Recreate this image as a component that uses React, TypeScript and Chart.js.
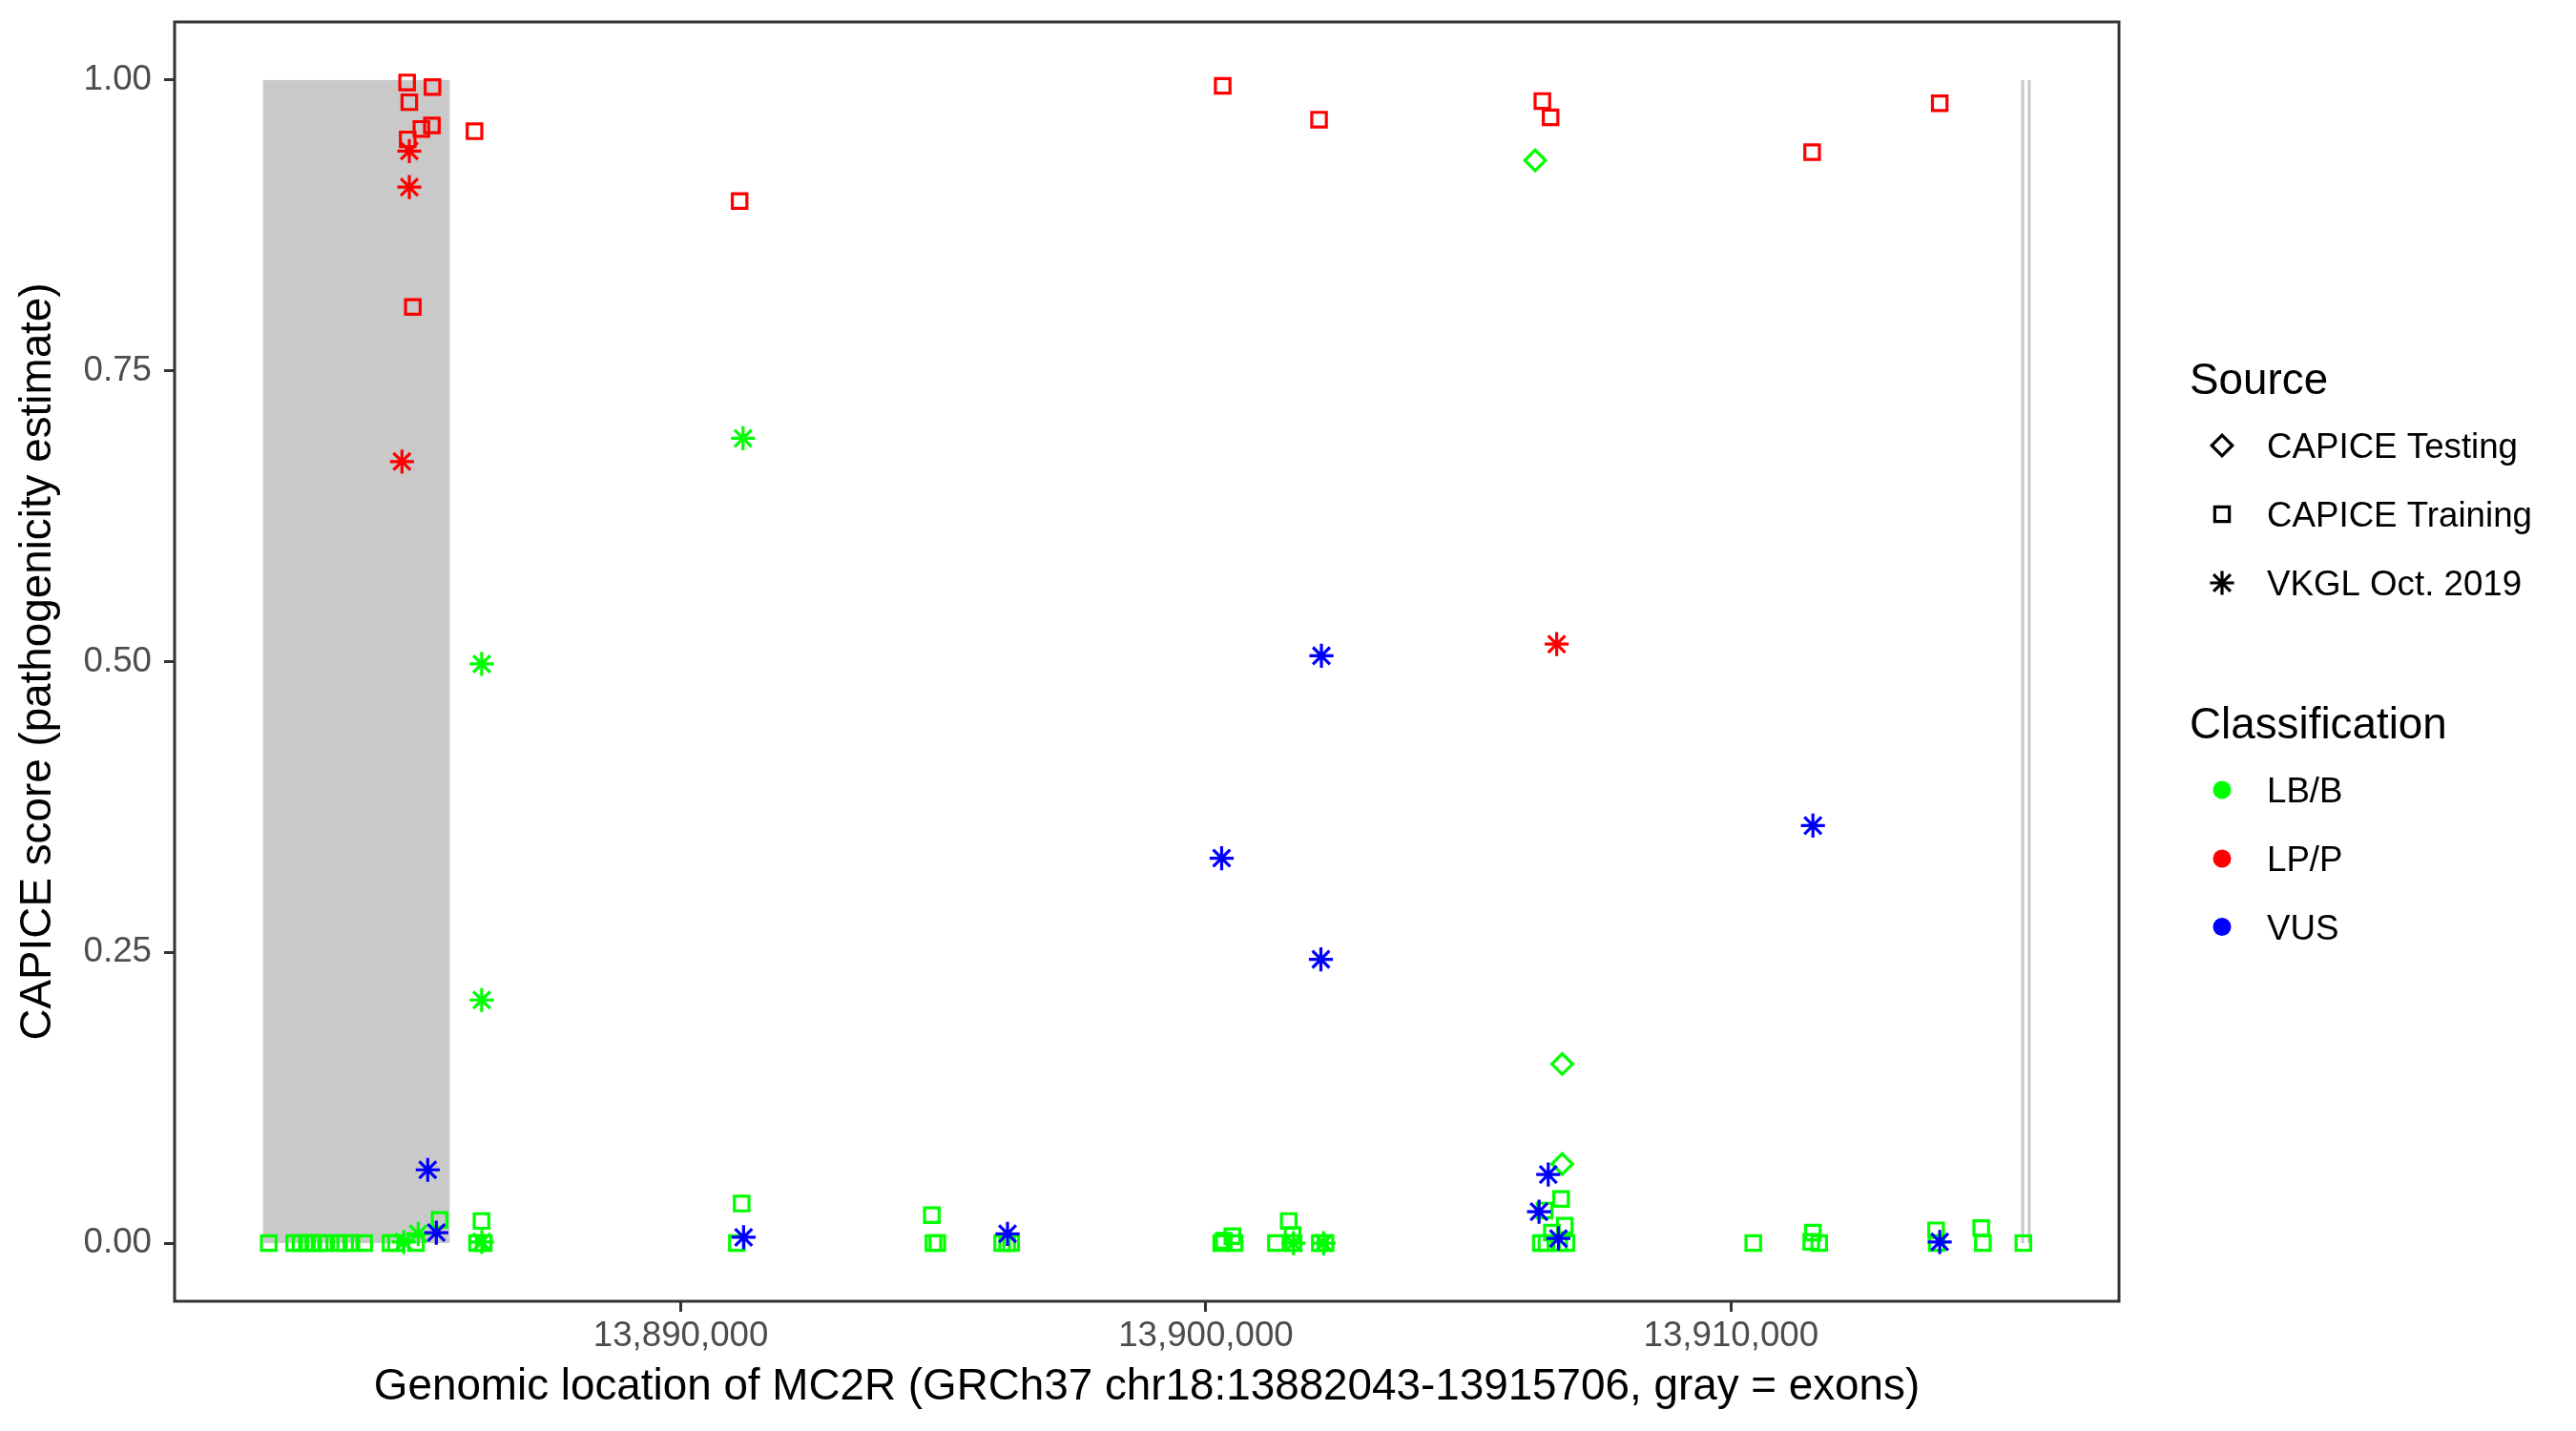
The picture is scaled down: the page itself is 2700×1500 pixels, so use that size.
import React, { useEffect, useRef } from 'react';
import { Chart, registerables } from 'chart.js';

Chart.register(...registerables);

// ---------- data ----------
const geneStart = 13882043;
const geneEnd = 13915706;

const exonStarts = [13882043, 13915525, 13915650];
const exonEnds = [13885600, 13915585, 13915706];

const xTickValues = [13890000, 13900000, 13910000];
const yTickValues = [0, 0.25, 0.5, 0.75, 1];

const sourceLabels = ['CAPICE Testing', 'CAPICE Training', 'VKGL Oct. 2019'];
const classLabels = ['LB/B', 'LP/P', 'VUS'];
const classColors = ['#00FF00', '#FF0000', '#0000FF'];

// CAPICE Training, LB/B
const trainLBB_x = [
  13882153, 13882637, 13882758, 13882880, 13883000, 13883122, 13883244, 13883485, 13883607,
  13883727, 13883970, 13884472, 13884575, 13884957, 13885406, 13886120, 13886247, 13886205,
  13891068, 13891159, 13894781, 13894811, 13894884, 13896120, 13896215, 13896290,
  13900292, 13900340, 13900505, 13900546, 13901334, 13901577, 13901650, 13901668,
  13902169, 13902278,
  13906379, 13906485, 13906729, 13906867, 13906450, 13906763, 13906834, 13906589,
  13910425, 13911559, 13911528, 13911680, 13913906, 13913918, 13914766, 13914797, 13915568,
];
const trainLBB_y = [
  0, 0, 0, 0, 0, 0, 0, 0, 0,
  0, 0, 0, 0, 0, 0.02, 0, 0, 0.019,
  0, 0.034, 0.024, 0, 0, 0, 0, 0,
  0, 0.002, 0.006, 0, 0, 0.019, 0.007, 0,
  0, 0,
  0, 0, 0, 0, 0.028, 0.038, 0.015, 0.009,
  0, 0.009, 0.001, 0, 0.011, 0, 0.013, 0, 0,
];

// CAPICE Training, LP/P
const trainLPP_x = [
  13884788, 13885271, 13884830, 13885260, 13885060, 13884799, 13884897, 13886071,
  13891120, 13900320, 13902155, 13906408, 13906564, 13911545, 13913975,
];
const trainLPP_y = [
  0.998, 0.994, 0.981, 0.961, 0.958, 0.949, 0.805, 0.956,
  0.896, 0.995, 0.966, 0.982, 0.968, 0.938, 0.98,
];

// CAPICE Testing, LB/B
const testLBB_x = [13906270, 13906785, 13906785];
const testLBB_y = [0.931, 0.154, 0.068];

// VKGL, LB/B
const vkglLBB_x = [13891185, 13886209, 13886209, 13884726, 13884999, 13886211, 13901667, 13902242];
const vkglLBB_y = [0.692, 0.498, 0.209, 0.001, 0.008, 0.001, 0, 0];

// VKGL, LP/P
const vkglLPP_x = [13884830, 13884830, 13884690, 13906680];
const vkglLPP_y = [0.939, 0.908, 0.672, 0.515];

// VKGL, VUS
const vkglVUS_x = [
  13885181, 13885344, 13891196, 13896222, 13900300, 13902200, 13902190,
  13906520, 13906344, 13906714, 13911560, 13913975,
];
const vkglVUS_y = [
  0.063, 0.009, 0.005, 0.008, 0.331, 0.505, 0.244,
  0.059, 0.027, 0.004, 0.359, 0.001,
];

const xTitle = 'Genomic location of MC2R (GRCh37 chr18:13882043-13915706, gray = exons)';
const yTitle = 'CAPICE score (pathogenicity estimate)';

// ---------- helpers ----------
const FONT = "'Liberation Sans', Arial, Helvetica, sans-serif";
const toPts = (xs: number[], ys: number[]) => xs.map((x, i) => ({ x, y: ys[i] }));
const fmtComma = (v: number) => String(Math.round(v)).replace(/\B(?=(\d{3})+(?!\d))/g, ',');

const R_RECT = 10.8;
const R_DIAMOND = 10.8;
const R_STAR = 12.6;
const LW = 3.2;

function drawMarker(ctx: CanvasRenderingContext2D, style: string, cx: number, cy: number, color: string) {
  ctx.save();
  ctx.strokeStyle = color;
  ctx.fillStyle = color;
  ctx.lineWidth = LW;
  ctx.beginPath();
  if (style === 'rectRot') {
    const r = R_DIAMOND;
    ctx.moveTo(cx, cy - r);
    ctx.lineTo(cx + r, cy);
    ctx.lineTo(cx, cy + r);
    ctx.lineTo(cx - r, cy);
    ctx.closePath();
    ctx.stroke();
  } else if (style === 'rect') {
    const s = R_RECT * Math.SQRT1_2;
    ctx.rect(cx - s, cy - s, 2 * s, 2 * s);
    ctx.stroke();
  } else if (style === 'star') {
    const r = R_STAR;
    ctx.moveTo(cx, cy - r);
    ctx.lineTo(cx, cy + r);
    ctx.moveTo(cx - r, cy);
    ctx.lineTo(cx + r, cy);
    const d = r * Math.SQRT1_2;
    ctx.moveTo(cx - d, cy - d);
    ctx.lineTo(cx + d, cy + d);
    ctx.moveTo(cx - d, cy + d);
    ctx.lineTo(cx + d, cy - d);
    ctx.stroke();
  } else {
    ctx.arc(cx, cy, 9.5, 0, Math.PI * 2);
    ctx.fill();
  }
  ctx.restore();
}

const panelPlugin = {
  id: 'panelPlugin',
  beforeDatasetsDraw(chart: any) {
    const { ctx, scales } = chart;
    const xs = scales.x;
    const ys = scales.y;
    ctx.save();
    ctx.fillStyle = '#C9C9C9';
    const y0 = ys.getPixelForValue(1);
    const y1 = ys.getPixelForValue(0);
    exonStarts.forEach((s, i) => {
      const x0 = xs.getPixelForValue(s);
      const x1 = xs.getPixelForValue(exonEnds[i]);
      ctx.fillRect(x0, y0, x1 - x0, y1 - y0);
    });
    ctx.restore();
  },
  afterDraw(chart: any) {
    const { ctx, chartArea: a } = chart;
    ctx.save();
    ctx.strokeStyle = '#333333';
    ctx.lineWidth = 3;
    ctx.strokeRect(a.left, a.top, a.right - a.left, a.bottom - a.top);

    // legends
    const lx = 2295;
    const mx = 2329;
    const tx = 2376;
    ctx.fillStyle = '#000000';
    ctx.textAlign = 'left';
    ctx.textBaseline = 'alphabetic';
    ctx.font = `45.8px ${FONT}`;
    ctx.fillText('Source', lx, 413);
    ctx.fillText('Classification', lx, 774);
    ctx.font = `36.7px ${FONT}`;
    const srcStyles = ['rectRot', 'rect', 'star'];
    const srcY = [467, 539, 611];
    sourceLabels.forEach((lab, i) => {
      drawMarker(ctx, srcStyles[i], mx, srcY[i], '#000000');
      ctx.fillStyle = '#000000';
      ctx.fillText(lab, tx, srcY[i] + 13.3);
    });
    const clsY = [828, 900, 971.5];
    classLabels.forEach((lab, i) => {
      drawMarker(ctx, 'circle', mx, clsY[i], classColors[i]);
      ctx.fillStyle = '#000000';
      ctx.fillText(lab, tx, clsY[i] + 13.3);
    });
    ctx.restore();
  },
};

export default function App() {
  const ref = useRef<HTMLCanvasElement | null>(null);

  useEffect(() => {
    document.body.style.margin = '0';
    const canvas = ref.current;
    if (!canvas) return;
    const pad = 0.05 * (geneEnd - geneStart);

    const mk = (label: string, xs: number[], ys: number[], style: string, color: string, radius: number) => ({
      label,
      data: toPts(xs, ys),
      pointStyle: style,
      pointRadius: radius,
      pointHoverRadius: radius,
      pointBorderWidth: LW,
      pointBorderColor: color,
      pointBackgroundColor: 'rgba(0,0,0,0)',
      borderColor: color,
      backgroundColor: 'rgba(0,0,0,0)',
      showLine: false,
    });

    const chart = new Chart(canvas, {
      type: 'scatter',
      data: {
        datasets: [
          mk('VKGL VUS', vkglVUS_x, vkglVUS_y, 'star', classColors[2], R_STAR),
          mk('VKGL LP/P', vkglLPP_x, vkglLPP_y, 'star', classColors[1], R_STAR),
          mk('VKGL LB/B', vkglLBB_x, vkglLBB_y, 'star', classColors[0], R_STAR),
          mk('Testing LB/B', testLBB_x, testLBB_y, 'rectRot', classColors[0], R_DIAMOND),
          mk('Training LP/P', trainLPP_x, trainLPP_y, 'rect', classColors[1], R_RECT),
          mk('Training LB/B', trainLBB_x, trainLBB_y, 'rect', classColors[0], R_RECT),
        ] as any,
      },
      options: {
        animation: false,
        responsive: false,
        devicePixelRatio: 1,
        events: [],
        layout: { padding: { left: 0, top: 23, right: 479, bottom: 0 } },
        plugins: {
          legend: { display: false },
          tooltip: { enabled: false },
          title: { display: false },
        },
        scales: {
          x: {
            type: 'linear',
            min: geneStart - pad,
            max: geneEnd + pad,
            afterBuildTicks: (s: any) => {
              s.ticks = xTickValues.map((v) => ({ value: v }));
            },
            afterFit: (s: any) => {
              s.height = 136;
              s.paddingLeft = 0;
              s.paddingRight = 0;
            },
            ticks: {
              callback: (v: any) => fmtComma(Number(v)),
              font: { size: 36.7, family: FONT },
              color: '#4D4D4D',
              padding: 4,
              maxRotation: 0,
              autoSkip: false,
            },
            grid: {
              display: true,
              drawOnChartArea: false,
              drawTicks: true,
              tickLength: 11,
              color: '#333333',
              lineWidth: 3,
            },
            border: { display: false },
            title: {
              display: true,
              text: xTitle,
              color: '#000000',
              font: { size: 45.8, family: FONT },
              padding: { top: 0, bottom: 18 },
            },
          },
          y: {
            type: 'linear',
            min: -0.05,
            max: 1.05,
            afterBuildTicks: (s: any) => {
              s.ticks = yTickValues.map((v) => ({ value: v }));
            },
            afterFit: (s: any) => {
              s.width = 183;
              s.paddingTop = 0;
              s.paddingBottom = 0;
            },
            ticks: {
              callback: (v: any) => Number(v).toFixed(2),
              font: { size: 36.7, family: FONT },
              color: '#4D4D4D',
              padding: 13,
              autoSkip: false,
            },
            grid: {
              display: true,
              drawOnChartArea: false,
              drawTicks: true,
              tickLength: 11,
              color: '#333333',
              lineWidth: 3,
            },
            border: { display: false },
            title: {
              display: true,
              text: yTitle,
              color: '#000000',
              font: { size: 45.8, family: FONT },
              padding: { top: 13, bottom: 0 },
            },
          },
        },
      } as any,
      plugins: [panelPlugin as any],
    });

    return () => {
      chart.destroy();
    };
  }, []);

  return (
    <div style={{ width: 2700, height: 1500, background: '#FFFFFF' }}>
      <canvas ref={ref} width={2700} height={1500} style={{ width: 2700, height: 1500, display: 'block' }} />
    </div>
  );
}
